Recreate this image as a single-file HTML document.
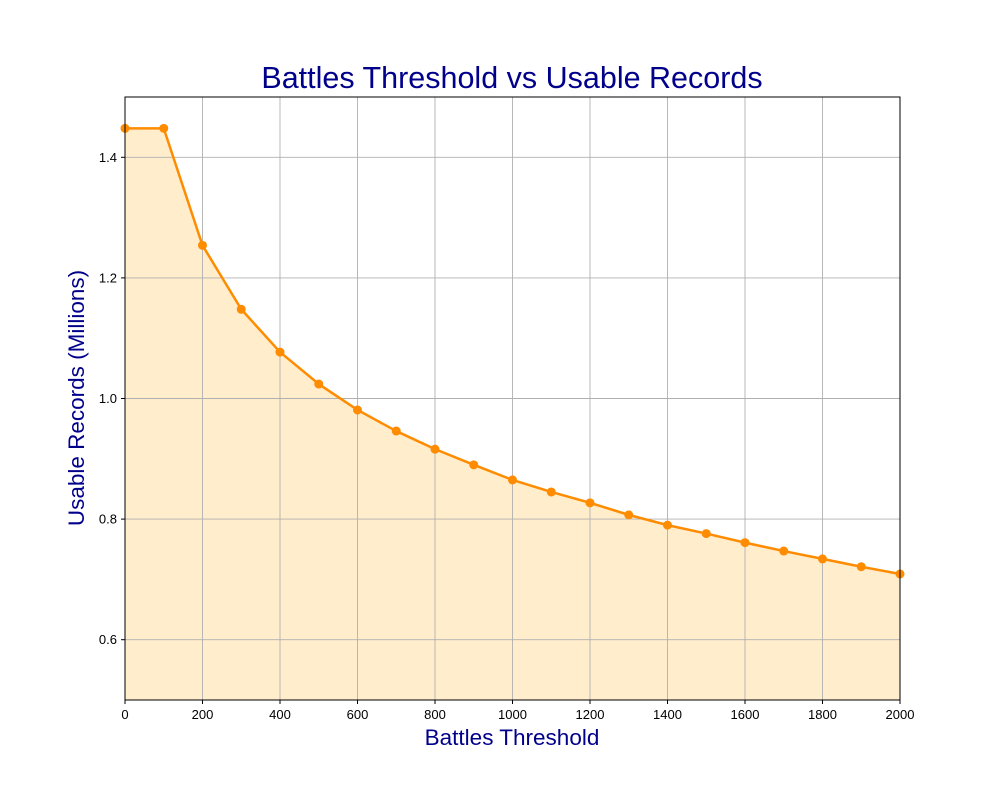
<!DOCTYPE html>
<html><head><meta charset="utf-8">
<style>
body{margin:0;background:#fff;}
svg text{font-family:"Liberation Sans","DejaVu Sans",sans-serif;}
</style></head>
<body>
<svg id="chart" width="1000" height="800" xmlns="http://www.w3.org/2000/svg">
<rect width="1000" height="800" fill="#fff"/>
<text x="512" y="88" font-size="30.5" fill="#00008b" text-anchor="middle">Battles Threshold vs Usable Records</text>
<text x="512" y="745" font-size="22.5" fill="#00008b" text-anchor="middle">Battles Threshold</text>
<text transform="translate(84,398) rotate(-90)" font-size="22.5" fill="#00008b" text-anchor="middle">Usable Records (Millions)</text>
<g id="area"></g>
<g id="grid"></g>
<g id="series"></g>
<rect x="125" y="97" width="775" height="603" fill="none" stroke="#000" stroke-width="1"/>
<g id="ticks"></g>
</svg>
<script>
const thresholds=[0,100,200,300,400,500,600,700,800,900,1000,1100,1200,1300,1400,1500,1600,1700,1800,1900,2000];
const records=[1.448,1.448,1.254,1.148,1.077,1.024,0.981,0.946,0.916,0.890,0.865,0.845,0.827,0.807,0.790,0.776,0.761,0.747,0.734,0.721,0.709];
const xTicks=[0,200,400,600,800,1000,1200,1400,1600,1800,2000];
const yTicks=[0.6,0.8,1.0,1.2,1.4];
const yTickLabels=["0.6","0.8","1.0","1.2","1.4"];
const X0=125,X1=900,Y0=700,Y1=97,XMIN=0,XMAX=2000,YMIN=0.5,YMAX=1.5;
const xs=v=>X0+(v-XMIN)/(XMAX-XMIN)*(X1-X0);
const ys=v=>Y0-(v-YMIN)/(YMAX-YMIN)*(Y0-Y1);
const NS="http://www.w3.org/2000/svg";
function mk(tag,attrs,parent){const e=document.createElementNS(NS,tag);for(const k in attrs)e.setAttribute(k,attrs[k]);parent.appendChild(e);return e;}
const grid=document.getElementById('grid'),ticks=document.getElementById('ticks');
xTicks.forEach(t=>{
 const x=xs(t);
 const g=mk('line',{x1:x,x2:x,y1:Y1,y2:Y0,stroke:'#b0b0b0','stroke-width':0.9},grid);
 
 
 const tk=mk('line',{x1:x,x2:x,y1:Y0,y2:Y0+4,stroke:'#000'},ticks);
 
 
 const tx=mk('text',{x:x,y:Y0+19,'font-size':13,'text-anchor':'middle',fill:'#000'},ticks);
 tx.textContent=t;
 
 
});
yTicks.forEach((t,i)=>{
 const y=ys(t);
 const g=mk('line',{x1:X0,x2:X1,y1:y,y2:y,stroke:'#b0b0b0','stroke-width':0.9},grid);
 
 
 const tk=mk('line',{x1:X0-4,x2:X0,y1:y,y2:y,stroke:'#000'},ticks);
 
 
 const tx=mk('text',{x:X0-8,y:y+4.5,'font-size':13,'text-anchor':'end',fill:'#000'},ticks);
 tx.textContent=yTickLabels[i];
 
 
});
const pts=thresholds.map((t,i)=>[xs(t),ys(records[i])]);
let d='M'+xs(thresholds[0])+','+Y0+' '+pts.map(p=>'L'+p[0]+','+p[1]).join(' ')+' L'+xs(thresholds[thresholds.length-1])+','+Y0+' Z';
const area=mk('path',{d:d,fill:'#ffedcc'},document.getElementById('area'));


const s=document.getElementById('series');
const line=mk('polyline',{points:pts.map(p=>p.join(',')).join(' '),fill:'none',stroke:'#ff8c00','stroke-width':2.5,'stroke-linejoin':'round'},s);


pts.forEach(p=>{
 const c=mk('circle',{cx:p[0],cy:p[1],r:4.5,fill:'#ff8c00'},s);
 
 
});
</script>
</body></html>
